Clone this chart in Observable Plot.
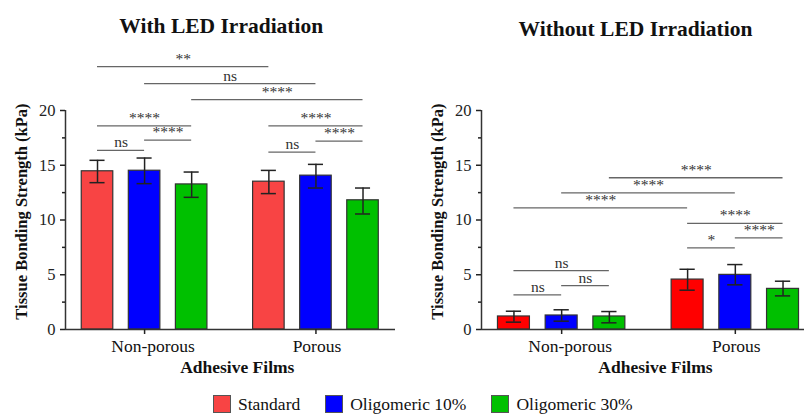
<!DOCTYPE html>
<html>
<head>
<meta charset="utf-8">
<script src="https://cdn.jsdelivr.net/npm/d3@7"></script>
<script src="https://cdn.jsdelivr.net/npm/@observablehq/plot@0.6"></script>
<style>
  html, body { margin: 0; padding: 0; background: #fff; }
  #wrap { position: relative; width: 804px; height: 414px; overflow: hidden; font-family: "Liberation Serif", "DejaVu Serif", serif; }
  #wrap svg, #wrap svg text { font-family: "Liberation Serif", "DejaVu Serif", serif !important; }
  #left { position: absolute; left: 0; top: 0; }
  #right { position: absolute; left: 402px; top: 0; }
  #legend { position: absolute; left: 213px; top: 395px; display: flex; align-items: center; font-size: 17.5px; color: #111; line-height: 18px; }
  .sw { width: 16px; height: 16px; border: 1px solid #555; margin-right: 7px; box-sizing: content-box; }
  .item { display: flex; align-items: center; margin-right: 25px; }
</style>
</head>
<body>
<div id="wrap">
  <div id="left"></div>
  <div id="right"></div>
  <div id="legend"></div>
</div>
<script>
// ---- data ----
const groups = ["Non-porous", "Porous"];
const series = ["Standard", "Oligomeric 10%", "Oligomeric 30%"];
const yTicks = [0, 5, 10, 15, 20];
const yMinorTicks = [2.5, 7.5, 12.5, 17.5];

// With LED irradiation (order: Non-porous Std, 10%, 30%, Porous Std, 10%, 30%)
const ledMean = [14.45, 14.5, 13.25, 13.5, 14.05, 11.8];
const ledLow  = [13.41, 13.32, 12.07, 12.41, 12.92, 10.55];
const ledHigh = [15.45, 15.66, 14.38, 14.53, 15.08, 12.92];
// comparisons: [fromBar, toBar, level (kPa), label]
const ledFrom  = [0, 1, 2, 0, 1, 0, 3, 4, 3];
const ledTo    = [3, 4, 5, 2, 2, 1, 5, 5, 4];
const ledLevel = [24.0, 22.45, 21.0, 18.6, 17.3, 16.35, 18.6, 17.2, 16.2];
const ledLabel = ["**", "ns", "****", "****", "****", "ns", "****", "****", "ns"];

// Without LED irradiation
const noMean = [1.19, 1.28, 1.19, 4.56, 4.99, 3.71];
const noLow  = [0.67, 0.76, 0.61, 3.59, 4.08, 3.07];
const noHigh = [1.67, 1.80, 1.64, 5.50, 5.93, 4.41];
const noFrom  = [2, 1, 0, 0, 1, 0, 3, 4, 3];
const noTo    = [5, 4, 3, 2, 2, 1, 5, 5, 4];
const noLevel = [13.86, 12.47, 11.1, 5.38, 4.0, 3.17, 9.7, 8.37, 7.45];
const noLabel = ["****", "****", "****", "ns", "ns", "ns", "****", "****", "*"];

const ledColors = ["#F84444", "#0000FF", "#00C000"];
const noColors  = ["#FF0000", "#0000FF", "#00BF00"];
const legendColors = ["#F84444", "#0000FF", "#00C000"];

// ---- layout helpers ----
const GROUP_STEP = 3.64;     // distance between group centres, in bar slots
const BAR_HALF = 0.335;
const CAP_HALF = 0.16;
const FONT = "'Liberation Serif', 'DejaVu Serif', serif";
const barX = (k) => Math.floor(k / 3) * GROUP_STEP + (k % 3) - 1;
const groupX = (g) => g * GROUP_STEP;

function panel({title, titleDx, titleDy, mean, low, high, from, to, level, label, colors, width, marginLeft, marginRight, domainEnd}) {
  const bars = mean.map((m, k) => ({k, x: barX(k), mean: m, low: low[k], high: high[k], s: series[k % 3], color: colors[k % 3]}));
  const comps = from.map((f, i) => ({x1: barX(f), x2: barX(to[i]), y: level[i], label: label[i]}));
  const xmin = -1.68;
  const mid = (groupX(0) + groupX(1)) / 2;
  return Plot.plot({
    width, height: 380,
    marginLeft, marginRight, marginTop: 110, marginBottom: 51,
    style: {fontFamily: FONT, fontSize: "16px", color: "#222", background: "transparent", overflow: "visible"},
    x: {type: "linear", domain: [xmin, domainEnd]},
    y: {domain: [0, 20]},
    marks: [
      Plot.rectY(bars, {x1: d => d.x - BAR_HALF, x2: d => d.x + BAR_HALF, y1: 0, y2: "mean", fill: "color", stroke: "#333", strokeWidth: 1.2}),
      Plot.ruleX(bars, {x: "x", y1: "low", y2: "high", stroke: "#222", strokeWidth: 1.5}),
      Plot.ruleY(bars, {y: "high", x1: d => d.x - CAP_HALF, x2: d => d.x + CAP_HALF, stroke: "#222", strokeWidth: 1.5}),
      Plot.ruleY(bars, {y: "low", x1: d => d.x - CAP_HALF, x2: d => d.x + CAP_HALF, stroke: "#222", strokeWidth: 1.5}),
      // significance brackets
      Plot.ruleY(comps, {y: "y", x1: "x1", x2: "x2", stroke: "#666", strokeWidth: 1.3}),
      Plot.text(comps, {x: d => (d.x1 + d.x2) / 2, y: "y", text: "label", fontSize: 15.5, fill: "#333", dy: -3, lineAnchor: "bottom"}),
      // axes
      Plot.ruleY([0], {stroke: "#333", strokeWidth: 1.5}),
      Plot.ruleX([xmin], {y1: 0, y2: 20, stroke: "#333", strokeWidth: 1.5}),
      Plot.axisY({ticks: yTicks, tickSize: 5, tickPadding: 5, fontSize: 16.5, strokeWidth: 1.5, label: null}),
      Plot.axisY({ticks: yMinorTicks, tickSize: 3, tickFormat: () => "", strokeWidth: 1.5, label: null}),
      Plot.axisX({ticks: [groupX(0), groupX(1)], tickSize: 5, tickFormat: () => "", strokeWidth: 1.5, label: null}),
      Plot.text([groups[0]], {x: groupX(0), y: 0, text: d => d, dx: 8.5, dy: 22, fontSize: 17.5, fill: "#111", lineAnchor: "bottom"}),
      Plot.text([groups[1]], {x: groupX(1), y: 0, text: d => d, dx: 1, dy: 22, fontSize: 17.5, fill: "#111", lineAnchor: "bottom"}),
      // axis titles
      Plot.text(["Adhesive Films"], {x: mid, y: 0, text: d => d, dx: 7, dy: 43, fontSize: 17.5, fontWeight: "bold", fill: "#111", lineAnchor: "bottom"}),
      Plot.text(["Tissue Bonding Strength (kPa)"], {frameAnchor: "left", text: d => d, rotate: -90, textAnchor: "middle", lineAnchor: "middle", dx: -44, dy: -8.5, fontSize: 16.5, fontWeight: "bold", fill: "#111"}),
      Plot.text([title], {x: mid, frameAnchor: "top", text: d => d, dx: titleDx, dy: titleDy, fontSize: 21.5, fontWeight: "bold", fill: "#111", lineAnchor: "bottom"})
    ]
  });
}

document.getElementById("left").append(panel({
  title: "With LED Irradiation", titleDx: -9, titleDy: -110 + 32,
  mean: ledMean, low: ledLow, high: ledHigh, from: ledFrom, to: ledTo, level: ledLevel, label: ledLabel,
  colors: ledColors, width: 402, marginLeft: 65, marginRight: 7, domainEnd: 5.33
}));
document.getElementById("right").append(panel({
  title: "Without LED Irradiation", titleDx: -13, titleDy: -110 + 35,
  mean: noMean, low: noLow, high: noHigh, from: noFrom, to: noTo, level: noLevel, label: noLabel,
  colors: noColors, width: 402, marginLeft: 79, marginRight: 0, domainEnd: 5.09
}));

// legend
const legend = document.getElementById("legend");
series.forEach((s, i) => {
  const item = document.createElement("div");
  item.className = "item";
  const sw = document.createElement("div");
  sw.className = "sw";
  sw.style.background = legendColors[i];
  const t = document.createElement("span");
  t.textContent = s;
  item.append(sw, t);
  legend.append(item);
});
</script>
</body>
</html>
